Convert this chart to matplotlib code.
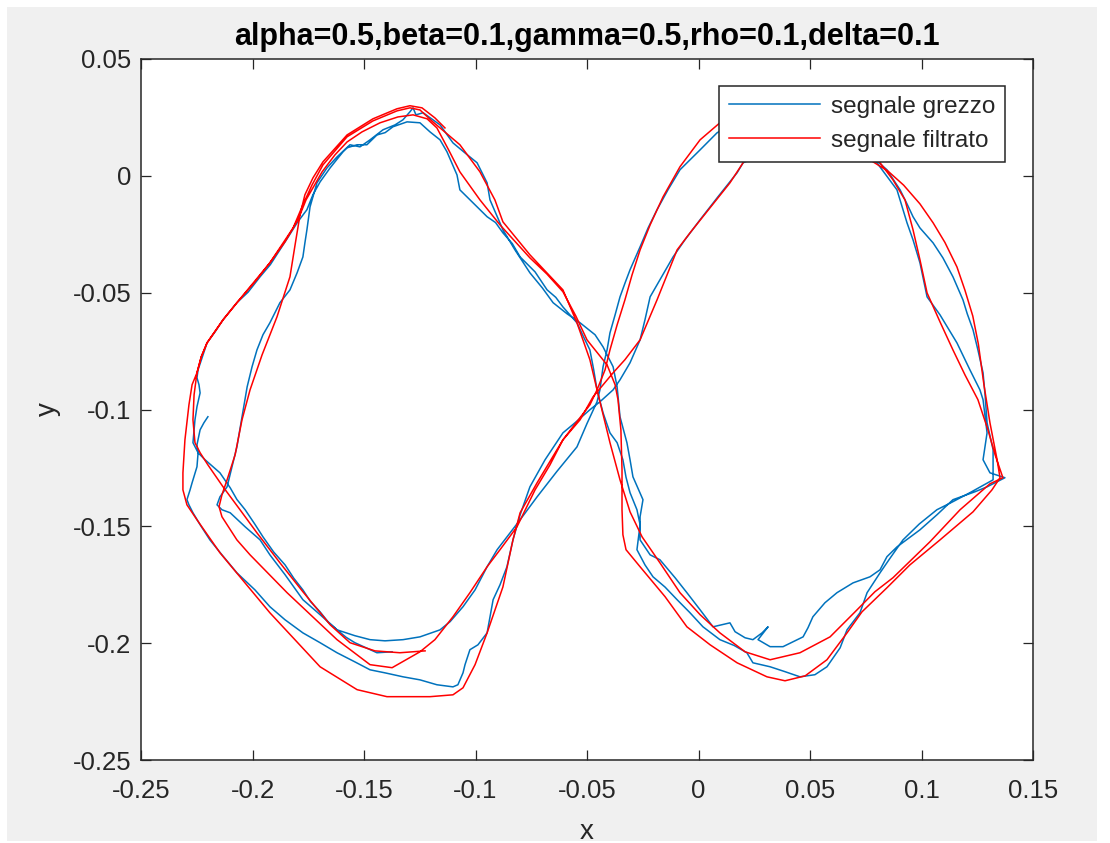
import numpy as np
import matplotlib
matplotlib.use("Agg")
import matplotlib.pyplot as plt
from matplotlib.patches import Rectangle

plt.rcParams['font.family'] = ['Liberation Sans', 'DejaVu Sans']

# traiettoria filtrata (x, y), due giri dell'otto
filtrato = [
    (-0.1226, -0.2033), (-0.1339, -0.2041), (-0.1451, -0.2033), (-0.1563, -0.1998), (-0.1652, -0.1921),
    (-0.1774, -0.1780), (-0.1877, -0.1656), (-0.1980, -0.1528), (-0.2056, -0.1429), (-0.2132, -0.1331),
    (-0.2200, -0.1237), (-0.2235, -0.1185), (-0.2258, -0.1142), (-0.2267, -0.1044), (-0.2262, -0.0937),
    (-0.2249, -0.0843), (-0.2230, -0.0775), (-0.2204, -0.0715), (-0.2132, -0.0616), (-0.2070, -0.0543),
    (-0.1989, -0.0454), (-0.1922, -0.0372), (-0.1854, -0.0282), (-0.1796, -0.0188), (-0.1760, -0.0103),
    (-0.1729, -0.0051), (-0.1688, 0.0017), (-0.1630, 0.0090), (-0.1576, 0.0145), (-0.1509, 0.0188),
    (-0.1428, 0.0227), (-0.1348, 0.0252), (-0.1280, 0.0261), (-0.1217, 0.0244), (-0.1173, 0.0205),
    (-0.1120, 0.0110), (-0.1070, 0.0017), (-0.0980, -0.0103), (-0.0890, -0.0210), (-0.0756, -0.0351),
    (-0.0680, -0.0420), (-0.0608, -0.0496), (-0.0550, -0.0600), (-0.0500, -0.0702), (-0.0410, -0.0809),
    (-0.0374, -0.0894), (-0.0361, -0.0958),
    (-0.0348, -0.1087), (-0.0343, -0.1258), (-0.0343, -0.1429), (-0.0339, -0.1536), (-0.0325, -0.1600),
    (-0.0262, -0.1673), (-0.0150, -0.1801), (-0.0052, -0.1930), (0.0052, -0.2007), (0.0173, -0.2084),
    (0.0307, -0.2144), (0.0388, -0.2161), (0.0478, -0.2140), (0.0576, -0.2071), (0.0666, -0.1956),
    (0.0733, -0.1866), (0.0845, -0.1763), (0.0948, -0.1665), (0.1083, -0.1558), (0.1231, -0.1438),
    (0.1316, -0.1344), (0.1352, -0.1292),
    (0.1339, -0.1215), (0.1307, -0.1057), (0.1280, -0.0894), (0.1255, -0.0720), (0.1230, -0.0600),
    (0.1195, -0.0490), (0.1159, -0.0390), (0.1105, -0.0285), (0.1052, -0.0201), (0.0993, -0.0120),
    (0.0920, -0.0040), (0.0850, 0.0020), (0.0769, 0.0068), (0.0679, 0.0154), (0.0545, 0.0240),
    (0.0410, 0.0282), (0.0276, 0.0282), (0.0164, 0.0261), (0.0096, 0.0227),
    (0.0007, 0.0154), (-0.0083, 0.0039), (-0.0159, -0.0090), (-0.0217, -0.0210), (-0.0262, -0.0317),
    (-0.0298, -0.0424), (-0.0330, -0.0531), (-0.0365, -0.0638), (-0.0397, -0.0745), (-0.0419, -0.0830),
    (-0.0455, -0.0916), (-0.0487, -0.0980), (-0.0545, -0.1052), (-0.0608, -0.1130), (-0.0724, -0.1314),
    (-0.0800, -0.1442), (-0.0832, -0.1558), (-0.0877, -0.1759), (-0.0948, -0.1956), (-0.1002, -0.2092),
    (-0.1056, -0.2191), (-0.1101, -0.2221), (-0.1204, -0.2229), (-0.1397, -0.2229), (-0.1531, -0.2199),
    (-0.1697, -0.2101), (-0.1922, -0.1870), (-0.2146, -0.1613), (-0.2249, -0.1472), (-0.2294, -0.1408),
    (-0.2312, -0.1344), (-0.2312, -0.1271), (-0.2303, -0.1130), (-0.2285, -0.0980), (-0.2271, -0.0894),
    (-0.2249, -0.0843),
    # secondo giro
    (-0.2230, -0.0775), (-0.2204, -0.0715), (-0.2132, -0.0616), (-0.2070, -0.0543), (-0.1922, -0.0372),
    (-0.1818, -0.0223), (-0.1774, -0.0124), (-0.1733, -0.0039), (-0.1684, 0.0047), (-0.1576, 0.0167),
    (-0.1460, 0.0235), (-0.1352, 0.0278), (-0.1294, 0.0291), (-0.1249, 0.0282), (-0.1191, 0.0231),
    (-0.1070, 0.0133), (-0.0980, 0.0017), (-0.0913, -0.0103), (-0.0877, -0.0197), (-0.0756, -0.0338),
    (-0.0608, -0.0488), (-0.0545, -0.0629), (-0.0487, -0.0787), (-0.0455, -0.0916), (-0.0433, -0.1001),
    (-0.0397, -0.1142), (-0.0352, -0.1301), (-0.0307, -0.1438), (-0.0253, -0.1545), (-0.0173, -0.1656),
    (-0.0083, -0.1784), (0.0007, -0.1878), (0.0096, -0.1956), (0.0209, -0.2037), (0.0321, -0.2071),
    (0.0455, -0.2041), (0.0590, -0.1973), (0.0702, -0.1866), (0.0791, -0.1780), (0.0872, -0.1720),
    (0.1038, -0.1566), (0.1173, -0.1429), (0.1307, -0.1318), (0.1365, -0.1292),
    (0.1330, -0.1194), (0.1298, -0.1087), (0.1253, -0.0958), (0.1195, -0.0852), (0.1141, -0.0745),
    (0.1083, -0.0625), (0.1025, -0.0501), (0.0993, -0.0359), (0.0962, -0.0231), (0.0926, -0.0103),
    (0.0872, -0.0017), (0.0814, 0.0056), (0.0724, 0.0111), (0.0590, 0.0154), (0.0455, 0.0197),
    (0.0321, 0.0175), (0.0253, 0.0120), (0.0200, 0.0056),
    (0.0141, -0.0030), (0.0020, -0.0175), (-0.0038, -0.0244), (-0.0096, -0.0317), (-0.0141, -0.0424),
    (-0.0186, -0.0531), (-0.0262, -0.0702), (-0.0330, -0.0787), (-0.0383, -0.0843), (-0.0473, -0.0946),
    (-0.0531, -0.1044), (-0.0608, -0.1130), (-0.0666, -0.1237), (-0.0733, -0.1344), (-0.0814, -0.1502),
    (-0.0890, -0.1600), (-0.0948, -0.1673), (-0.1025, -0.1784), (-0.1101, -0.1887), (-0.1182, -0.1985),
    (-0.1249, -0.2037), (-0.1374, -0.2105), (-0.1473, -0.2092), (-0.1621, -0.1985), (-0.1845, -0.1784),
    (-0.2011, -0.1622), (-0.2070, -0.1558), (-0.2137, -0.1459), (-0.2150, -0.1416), (-0.2137, -0.1365),
    (-0.2114, -0.1301), (-0.2078, -0.1194), (-0.2047, -0.1044), (-0.2011, -0.0916), (-0.1957, -0.0766),
    (-0.1890, -0.0603), (-0.1832, -0.0432), (-0.1809, -0.0295), (-0.1787, -0.0167), (-0.1765, -0.0081),
    (-0.1729, -0.0009), (-0.1684, 0.0060), (-0.1576, 0.0175), (-0.1460, 0.0244), (-0.1352, 0.0287),
    (-0.1294, 0.0300), (-0.1240, 0.0291), (-0.1182, 0.0248), (-0.1137, 0.0205),
]

# traiettoria misurata (x, y)
grezzo = [
    (-0.1374, -0.2037), (-0.1442, -0.2041), (-0.1541, -0.1998), (-0.1580, -0.1975), (-0.1621, -0.1943),
    (-0.1660, -0.1910), (-0.1697, -0.1866), (-0.1740, -0.1822), (-0.1774, -0.1772), (-0.1815, -0.1722),
    (-0.1854, -0.1665), (-0.1905, -0.1610), (-0.1953, -0.1545), (-0.1990, -0.1490), (-0.2033, -0.1429),
    (-0.2070, -0.1385), (-0.2100, -0.1335), (-0.2146, -0.1271), (-0.2213, -0.1215), (-0.2244, -0.1185),
    (-0.2267, -0.1142), (-0.2262, -0.1087), (-0.2258, -0.1044), (-0.2249, -0.0988), (-0.2235, -0.0929),
    (-0.2240, -0.0894), (-0.2249, -0.0864), (-0.2244, -0.0830), (-0.2222, -0.0766), (-0.2204, -0.0715),
    (-0.2168, -0.0668), (-0.2132, -0.0616), (-0.2070, -0.0543), (-0.2020, -0.0498), (-0.1966, -0.0432),
    (-0.1920, -0.0380), (-0.1877, -0.0317), (-0.1840, -0.0262), (-0.1800, -0.0201), (-0.1756, -0.0145),
    (-0.1729, -0.0081), (-0.1697, -0.0026), (-0.1652, 0.0034), (-0.1594, 0.0103), (-0.1576, 0.0120),
    (-0.1531, 0.0133), (-0.1487, 0.0133), (-0.1442, 0.0175), (-0.1405, 0.0185), (-0.1370, 0.0210),
    (-0.1307, 0.0231), (-0.1249, 0.0227), (-0.1204, 0.0188), (-0.1159, 0.0154), (-0.1128, 0.0103),
    (-0.1083, 0.0004), (-0.1070, -0.0060), (-0.1002, -0.0124), (-0.0948, -0.0175), (-0.0910, -0.0200),
    (-0.0877, -0.0244), (-0.0835, -0.0290), (-0.0800, -0.0347), (-0.0733, -0.0411), (-0.0679, -0.0488),
    (-0.0640, -0.0520), (-0.0608, -0.0561), (-0.0545, -0.0629), (-0.0515, -0.0690), (-0.0487, -0.0745),
    (-0.0470, -0.0830), (-0.0455, -0.0916), (-0.0428, -0.1014), (-0.0397, -0.1100), (-0.0365, -0.1142),
    (-0.0339, -0.1215), (-0.0325, -0.1290), (-0.0307, -0.1356), (-0.0276, -0.1429), (-0.0262, -0.1493),
    (-0.0276, -0.1600), (-0.0240, -0.1665), (-0.0204, -0.1716), (-0.0150, -0.1760), (-0.0096, -0.1814),
    (-0.0040, -0.1868), (0.0020, -0.1930), (0.0096, -0.1985), (0.0160, -0.2010), (0.0217, -0.2041),
    (0.0244, -0.2084), (0.0321, -0.2101), (0.0388, -0.2122), (0.0455, -0.2144), (0.0522, -0.2135),
    (0.0576, -0.2101), (0.0635, -0.2020), (0.0666, -0.1943), (0.0724, -0.1870), (0.0756, -0.1784),
    (0.0814, -0.1699), (0.0860, -0.1635), (0.0917, -0.1558), (0.0990, -0.1490), (0.1069, -0.1429),
    (0.1140, -0.1395), (0.1217, -0.1356), (0.1321, -0.1301),
    (0.1321, -0.1237), (0.1321, -0.1172), (0.1294, -0.1057), (0.1285, -0.0937), (0.1276, -0.0843),
    (0.1253, -0.0745), (0.1231, -0.0659), (0.1205, -0.0590), (0.1186, -0.0531), (0.1141, -0.0432),
    (0.1096, -0.0351), (0.1052, -0.0287), (0.0993, -0.0223), (0.0962, -0.0175), (0.0935, -0.0120),
    (0.0904, -0.0060), (0.0845, 0.0026), (0.0769, 0.0090), (0.0635, 0.0175), (0.0455, 0.0248),
    (0.0276, 0.0274), (0.0164, 0.0231), (0.0083, 0.0184), (0.0007, 0.0111), (-0.0083, 0.0026),
    (-0.0137, -0.0060), (-0.0186, -0.0145), (-0.0226, -0.0223), (-0.0262, -0.0304), (-0.0307, -0.0402),
    (-0.0330, -0.0460), (-0.0352, -0.0518), (-0.0374, -0.0595), (-0.0397, -0.0672), (-0.0410, -0.0745),
    (-0.0428, -0.0817), (-0.0442, -0.0916), (-0.0455, -0.0967), (-0.0500, -0.1060), (-0.0545, -0.1160),
    (-0.0635, -0.1265), (-0.0724, -0.1374), (-0.0800, -0.1472), (-0.0845, -0.1528), (-0.0903, -0.1600),
    (-0.0948, -0.1673), (-0.1002, -0.1772), (-0.1056, -0.1844), (-0.1114, -0.1908), (-0.1159, -0.1943),
    (-0.1249, -0.1973), (-0.1325, -0.1985), (-0.1406, -0.1990), (-0.1473, -0.1985), (-0.1541, -0.1968),
    (-0.1621, -0.1943), (-0.1697, -0.1878), (-0.1774, -0.1814), (-0.1854, -0.1707), (-0.1922, -0.1622),
    (-0.1966, -0.1558), (-0.2033, -0.1502), (-0.2100, -0.1442), (-0.2137, -0.1429), (-0.2159, -0.1408),
    (-0.2146, -0.1374), (-0.2114, -0.1331), (-0.2092, -0.1245), (-0.2070, -0.1160), (-0.2047, -0.1031),
    (-0.2024, -0.0903), (-0.2002, -0.0817), (-0.1980, -0.0745), (-0.1953, -0.0680), (-0.1922, -0.0629),
    (-0.1877, -0.0543), (-0.1832, -0.0488), (-0.1800, -0.0415), (-0.1774, -0.0347), (-0.1765, -0.0287),
    (-0.1756, -0.0231), (-0.1742, -0.0133), (-0.1711, -0.0030), (-0.1666, 0.0034), (-0.1621, 0.0081),
    (-0.1563, 0.0133), (-0.1518, 0.0124), (-0.1473, 0.0154), (-0.1415, 0.0197), (-0.1361, 0.0218),
    (-0.1325, 0.0240), (-0.1294, 0.0274), (-0.1280, 0.0291), (-0.1267, 0.0261), (-0.1235, 0.0270),
    (-0.1191, 0.0240), (-0.1159, 0.0218), (-0.1101, 0.0141), (-0.1047, 0.0098), (-0.0993, 0.0056),
    (-0.0948, -0.0030), (-0.0935, -0.0103), (-0.0877, -0.0231), (-0.0823, -0.0317), (-0.0756, -0.0415),
    (-0.0700, -0.0480), (-0.0652, -0.0543), (-0.0590, -0.0590), (-0.0531, -0.0629), (-0.0464, -0.0680),
    (-0.0428, -0.0732), (-0.0383, -0.0817), (-0.0365, -0.0903), (-0.0352, -0.1031), (-0.0321, -0.1142),
    (-0.0307, -0.1215), (-0.0294, -0.1288), (-0.0249, -0.1386),
    (-0.0262, -0.1459), (-0.0262, -0.1558), (-0.0217, -0.1622), (-0.0173, -0.1643), (-0.0105, -0.1720),
    (-0.0052, -0.1784), (0.0007, -0.1857), (0.0065, -0.1930), (0.0105, -0.1921), (0.0141, -0.1913),
    (0.0164, -0.1951), (0.0209, -0.1977), (0.0244, -0.1985), (0.0285, -0.1956), (0.0312, -0.1930),
    (0.0267, -0.1985), (0.0321, -0.2015), (0.0379, -0.2015), (0.0433, -0.1990), (0.0469, -0.1973),
    (0.0491, -0.1934), (0.0513, -0.1887), (0.0567, -0.1827), (0.0621, -0.1784), (0.0693, -0.1742),
    (0.0769, -0.1716), (0.0814, -0.1686), (0.0845, -0.1630), (0.0890, -0.1588), (0.0993, -0.1515),
    (0.1070, -0.1450), (0.1141, -0.1386), (0.1240, -0.1352), (0.1294, -0.1331), (0.1374, -0.1292),
    (0.1307, -0.1271), (0.1276, -0.1215), (0.1294, -0.1100), (0.1276, -0.0958), (0.1262, -0.0916),
    (0.1217, -0.0830), (0.1159, -0.0715), (0.1083, -0.0595), (0.1025, -0.0518), (0.0993, -0.0372),
    (0.0962, -0.0274), (0.0935, -0.0201), (0.0890, -0.0060), (0.0800, 0.0056), (0.0724, 0.0111),
    (0.0590, 0.0133), (0.0455, 0.0154), (0.0321, 0.0111), (0.0231, 0.0068), (0.0200, 0.0056),
    (0.0173, 0.0013), (0.0087, -0.0090), (0.0007, -0.0188), (-0.0061, -0.0274), (-0.0114, -0.0347),
    (-0.0173, -0.0445), (-0.0217, -0.0518), (-0.0240, -0.0616), (-0.0262, -0.0702), (-0.0307, -0.0800),
    (-0.0352, -0.0873), (-0.0383, -0.0916), (-0.0442, -0.0967), (-0.0487, -0.1001), (-0.0554, -0.1057),
    (-0.0608, -0.1100), (-0.0688, -0.1215), (-0.0756, -0.1331),
    (-0.0800, -0.1451), (-0.0832, -0.1558), (-0.0859, -0.1673), (-0.0890, -0.1750), (-0.0921, -0.1814),
    (-0.0948, -0.1956), (-0.0989, -0.2007), (-0.1025, -0.2028), (-0.1047, -0.2092), (-0.1056, -0.2127),
    (-0.1079, -0.2178), (-0.1101, -0.2187), (-0.1173, -0.2178), (-0.1249, -0.2157), (-0.1325, -0.2144),
    (-0.1406, -0.2127), (-0.1473, -0.2114), (-0.1541, -0.2080), (-0.1621, -0.2041), (-0.1697, -0.1998),
    (-0.1774, -0.1956), (-0.1854, -0.1900), (-0.1922, -0.1844), (-0.1989, -0.1772), (-0.2070, -0.1699),
    (-0.2137, -0.1622), (-0.2191, -0.1558), (-0.2235, -0.1493), (-0.2267, -0.1442), (-0.2285, -0.1408),
    (-0.2294, -0.1386), (-0.2280, -0.1344), (-0.2271, -0.1314), (-0.2249, -0.1245), (-0.2244, -0.1185),
    (-0.2249, -0.1151), (-0.2235, -0.1087), (-0.2218, -0.1057), (-0.2200, -0.1031),
]

xticks = [-0.25, -0.2, -0.15, -0.1, -0.05, 0, 0.05, 0.1, 0.15]
xtick_labels = ['-0.25', '-0.2', '-0.15', '-0.1', '-0.05', '0', '0.05', '0.1', '0.15']
yticks = [-0.25, -0.2, -0.15, -0.1, -0.05, 0, 0.05]
ytick_labels = ['-0.25', '-0.2', '-0.15', '-0.1', '-0.05', '0', '0.05']

blu = '#0072BD'
rosso = '#FF0000'
scuro = '#262626'

gx, gy = np.array(grezzo).T
fx, fy = np.array(filtrato).T

fig = plt.figure(figsize=(11.1, 8.43), dpi=100, facecolor='white')
# sfondo grigio della finestra, sotto gli assi
fig.patches.append(Rectangle((7 / 1110, 2 / 843), 1090 / 1110, 834 / 843,
                             transform=fig.transFigure, facecolor='#F0F0F0',
                             edgecolor='none', zorder=-10))

ax = fig.add_axes([141 / 1110, 83 / 843, 892 / 1110, 701 / 843])
ax.plot(gx, gy, color=blu, lw=1.1, label='segnale grezzo', solid_joinstyle='round')
ax.plot(fx, fy, color=rosso, lw=1.1, label='segnale filtrato', solid_joinstyle='round')

ax.set_xlim(-0.25, 0.15)
ax.set_ylim(-0.25, 0.05)
ax.set_xticks(xticks, xtick_labels)
ax.set_yticks(yticks, ytick_labels)
ax.tick_params(direction='in', length=7, width=0.9, top=True, right=True,
               labelsize=18.5, colors=scuro)
ax.tick_params(axis='x', pad=14)
ax.tick_params(axis='y', pad=7)
for s in ax.spines.values():
    s.set_linewidth(1.1)
    s.set_color(scuro)

ax.set_xlabel('x', fontsize=20, color=scuro, labelpad=11)
ax.set_ylabel('y', fontsize=20, color=scuro, labelpad=8)
ax.set_title('alpha=0.5,beta=0.1,gamma=0.5,rho=0.1,delta=0.1',
             fontsize=22, fontweight='bold', color='black', pad=10)

leg = ax.legend(loc='upper right', bbox_to_anchor=(0.9686, 0.9615), borderaxespad=0,
                fontsize=17.5, frameon=True, fancybox=False, framealpha=1,
                edgecolor=scuro, handlelength=3.75, handletextpad=0.45,
                borderpad=0.4, labelspacing=0.5)
leg.get_frame().set_linewidth(1.1)
for t in leg.get_texts():
    t.set_color(scuro)

fig.savefig('out.png', dpi=100, facecolor=fig.get_facecolor())
